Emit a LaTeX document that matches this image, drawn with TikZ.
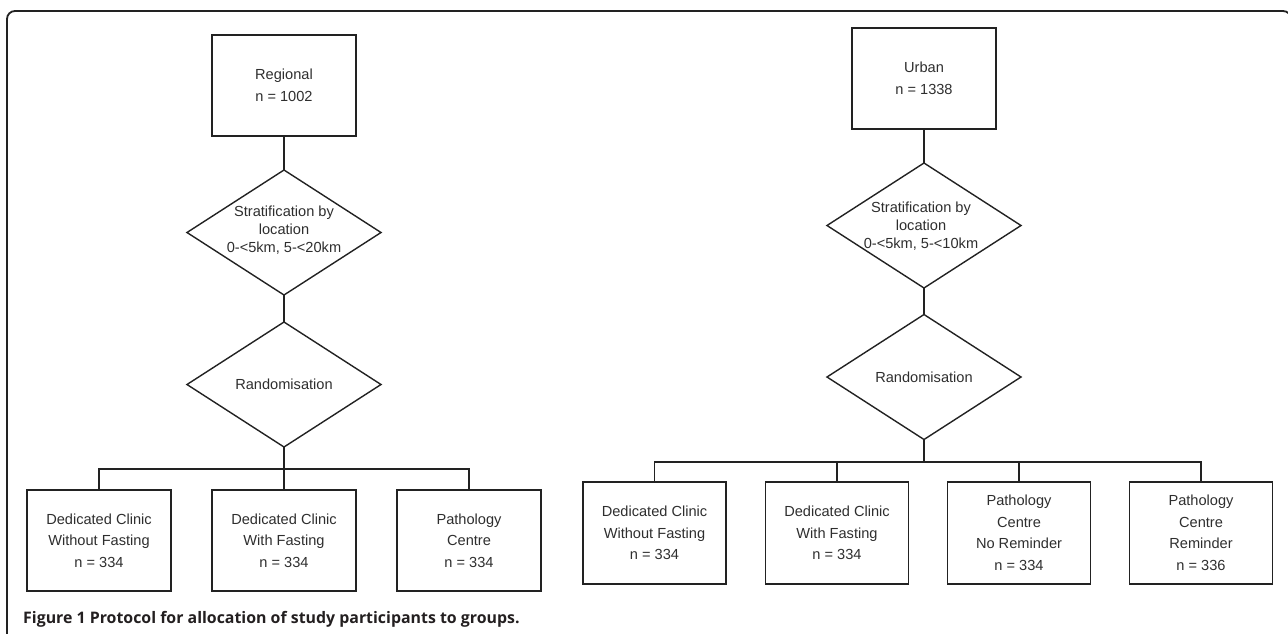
\documentclass[tikz,border=0pt]{standalone}
\usepackage{fontspec}
\setmainfont{Liberation Sans}
\newfontfamily\capfont{Open Sans}
\usetikzlibrary{shapes.geometric}
\definecolor{ink}{HTML}{222222}
\definecolor{txtc}{HTML}{2E2E2E}
\definecolor{capc}{HTML}{231F20}
\tikzset{
  boxnode/.style={draw=ink, line width=1.8pt, rectangle, minimum width=144pt, minimum height=101pt, inner sep=0pt, outer sep=0pt},
  dianode/.style={draw=ink, line width=1.4pt, diamond, minimum width=194pt, minimum height=125pt, inner sep=0pt, outer sep=0pt},
  txt/.style={align=center, text=txtc, font=\fontsize{14.6pt}{21.5pt}\selectfont, inner sep=0pt},
  dtxt/.style={align=center, text=txtc, font=\fontsize{14.6pt}{18pt}\selectfont, inner sep=0pt},
  conn/.style={draw=ink, line width=1.4pt},
  frameline/.style={draw=ink, line width=1.8pt, rounded corners=8pt}
}
\begin{document}
\begin{tikzpicture}[x=1pt, y=-1pt]
\useasboundingbox (0,0) rectangle (1288,633);
\clip (0,0) rectangle (1288,633);
\draw[frameline] (7,650) -- (7,11) -- (1291,11) -- (1291,650);

% ---------- Regional ----------
\node[boxnode] (reg) at (284,85.5) {};
\node[txt] (regt) at (reg.center) {Regional\\n = 1002};
\node[dianode] (rs) at (284,232.5) {};
\node[dtxt] (rst) at (284,230) {Stratification by\\location\\0-<5km, 5-<20km};
\node[dianode] (rr) at (284,384.5) {};
\node[txt] (rrt) at (rr.center) {Randomisation};
\node[boxnode] (ra) at (99,540.5) {};
\node[txt] (rat) at (ra.center) {Dedicated Clinic\\Without Fasting\\n = 334};
\node[boxnode] (rb) at (284,540.5) {};
\node[txt] (rbt) at (rb.center) {Dedicated Clinic\\With Fasting\\n = 334};
\node[boxnode] (rc) at (469,540.5) {};
\node[txt] (rct) at (rc.center) {Pathology\\Centre\\n = 334};
\coordinate (rj) at (284,469);
\draw[conn] (reg.south) -- (rs.north);
\draw[conn] (rs.south) -- (rr.north);
\draw[conn] (rr.south) -- (rj);
\draw[conn] (ra.north) |- (rj) -| (rc.north);
\draw[conn, line width=1.1pt] (rj) -- (rb.north);

% ---------- Urban ----------
\node[boxnode] (urb) at (924,78.5) {};
\node[txt] (urbt) at (urb.center) {Urban\\n = 1338};
\node[dianode] (us) at (924,225.5) {};
\node[dtxt] (ust) at (921,226) {Stratification by\\location\\0-<5km, 5-<10km};
\node[dianode] (ur) at (924,377) {};
\node[txt] (urt) at (ur.center) {Randomisation};
\node[boxnode, minimum width=143pt, minimum height=102pt] (ua) at (654.5,533) {};
\node[txt] (uat) at (ua.center) {Dedicated Clinic\\Without Fasting\\n = 334};
\node[boxnode, minimum width=143pt, minimum height=102pt] (ub) at (837,533) {};
\node[txt] (ubt) at (ub.center) {Dedicated Clinic\\With Fasting\\n = 334};
\node[boxnode, minimum width=143pt, minimum height=102pt] (uc) at (1019,533) {};
\node[txt] (uct) at (uc.center) {Pathology\\Centre\\No Reminder\\n = 334};
\node[boxnode, minimum width=143pt, minimum height=102pt] (ud) at (1201,533) {};
\node[txt] (udt) at (ud.center) {Pathology\\Centre\\Reminder\\n = 336};
\coordinate (uj) at (924,462);
\draw[conn] (urb.south) -- (us.north);
\draw[conn] (us.south) -- (ur.north);
\draw[conn] (ur.south) -- (uj);
\draw[conn] (ua.north) |- (uj) -| (ud.north);
\draw[conn, line width=1.1pt] (ub.north) -- (ub.north |- uj);
\draw[conn, line width=1.1pt] (uc.north) -- (uc.north |- uj);

% ---------- Caption ----------
\node[anchor=base west, inner sep=0pt, text=capc, font=\capfont\bfseries\fontsize{15.9pt}{18pt}\selectfont] (cap) at (23,623) {Figure 1 Protocol for allocation of study participants to groups.};
\end{tikzpicture}
\end{document}
